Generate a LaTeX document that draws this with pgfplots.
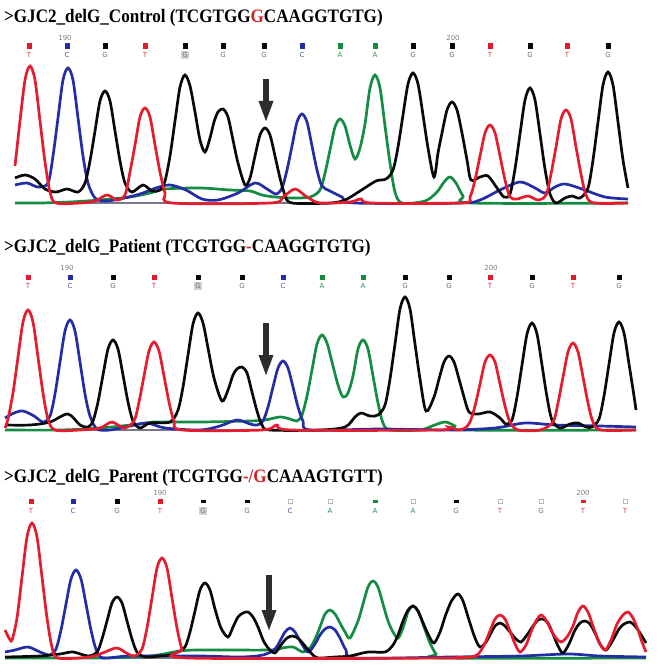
\documentclass[border=0pt]{standalone}
\usepackage{fontspec}
\usepackage{graphicx}
\usepackage{pgfplots}
\pgfplotsset{compat=1.18}
\usetikzlibrary{arrows.meta}
\setmainfont{Liberation Serif}
\newfontfamily\basefont{DejaVu Sans}
\definecolor{tred}{RGB}{228,28,45}
\definecolor{tblue}{RGB}{35,45,165}
\definecolor{tgreen}{RGB}{20,140,65}
\definecolor{tblack}{RGB}{10,10,10}
\definecolor{basegray}{RGB}{120,120,140}
\definecolor{arrowgray}{RGB}{45,45,45}
\definecolor{titlered}{RGB}{215,30,35}
\definecolor{lred}{RGB}{225,60,70}
\definecolor{lblue}{RGB}{70,90,190}
\definecolor{lgray}{RGB}{110,110,110}
\definecolor{lgreen}{RGB}{50,150,80}
\newcommand\ttl[3]{\node[anchor=west,inner sep=0pt] at (axis cs:#1,#2) {\bfseries\fontsize{19bp}{22bp}\selectfont\scalebox{0.9}[1]{#3}};}
\newcommand\bl[4]{\node[text=#3,inner sep=0pt,font=\basefont\fontsize{7bp}{8bp}\selectfont] at (axis cs:#1,#2) {#4};}
\newcommand\bx[3]{\node[text=lgray,fill=gray!35,inner sep=1bp,font=\basefont\fontsize{7bp}{8bp}\selectfont] at (axis cs:#1,#2) {#3};}
\newcommand\num[3]{\node[text=gray,inner sep=0pt,font=\basefont\fontsize{7bp}{8bp}\selectfont] at (axis cs:#1,#2) {#3};}
\pgfplotsset{trace/.style={line width=2.7bp,smooth,tension=0.5}}
\begin{document}
\begin{tikzpicture}
\begin{axis}[width=658bp,height=672bp,scale only axis,xmin=0,xmax=658,ymin=0,ymax=672,
  y dir=reverse,axis lines=none,clip=false]
\addplot[draw=none] coordinates {(0,0) (658,672)};
% ---------- Panel 1: Control ----------
\addplot[basegray,line width=1.2bp] coordinates {(15,203) (628,203)};
\addplot[tgreen,trace] coordinates {(15,203) (40,203) (70,202) (100,200) (130,197) (150,193) (165,189) (200,188) (230,190) (250,191) (262,195) (275,197) (292,198) (310,197) (320,190) (325,173) (330,150) (335,127) (340,119) (345,126) (350,145) (355,159) (360,148) (365,124) (370,88) (375,75) (380,88) (385,126) (390,163) (395,192) (402,203) (425,201) (437,192) (444,182) (450,177) (456,183) (463,196) (472,203) (628,203)};
\addplot[tblue,trace] coordinates {(15,185) (27,183) (38,187) (48,183) (53,156) (58,118) (63,80) (68,68) (73,80) (78,118) (83,156) (88,183) (95,198) (105,201) (120,199) (140,194) (156,188) (170,185) (186,190) (202,199) (218,200) (238,193) (255,183) (267,189) (276,194) (282,188) (287,170) (292,146) (297,122) (302,114) (307,122) (312,146) (317,170) (322,186) (330,191) (342,197) (355,203) (460,203) (480,200) (500,190) (520,182) (535,188) (545,193) (555,187) (565,184) (582,189) (605,197) (628,199)};
\addplot[tblack,trace] coordinates {(15,178) (25,175) (35,179) (45,189) (56,192) (67,189) (78,192) (85,183) (90,161) (95,131) (100,101) (105,91) (110,101) (115,131) (120,161) (125,183) (132,192) (143,185) (152,191) (160,190) (165,181) (170,156) (175,121) (180,87) (185,75) (190,86) (195,112) (200,140) (205,152) (210,138) (214,122) (218,112) (223,109) (228,117) (233,140) (238,163) (245,185) (250,178) (255,156) (260,135) (265,128) (270,135) (275,156) (280,178) (285,195) (292,203) (330,203) (345,200) (360,191) (376,181) (386,179) (393,170) (398,147) (403,115) (408,84) (413,73) (418,84) (423,115) (428,148) (434,177) (438,153) (442,133) (447,110) (452,102) (457,110) (462,133) (467,160) (471,180) (480,177) (488,176) (497,188) (504,197) (510,194) (515,169) (520,134) (525,100) (530,88) (535,100) (540,134) (545,169) (550,194) (556,203) (565,198) (572,196) (580,198) (588,188) (593,160) (598,122) (603,85) (608,72) (613,85) (618,122) (623,160) (628,188)};
\addplot[tred,trace] coordinates {(15,166) (20,121) (25,80) (30,66) (35,80) (40,121) (45,162) (50,192) (56,203) (80,203) (95,201) (107,195) (117,200) (125,195) (130,172) (135,145) (140,117) (145,108) (150,117) (155,145) (160,172) (165,193) (172,203) (270,203) (283,197) (295,189) (307,197) (320,203) (350,202) (361,199) (372,203) (462,203) (470,197) (475,180) (480,156) (485,133) (490,125) (495,133) (500,156) (505,180) (510,197) (517,199) (528,196) (538,200) (546,195) (551,174) (556,147) (561,119) (566,110) (571,119) (576,147) (581,174) (586,195) (594,203) (628,203)};
\addplot[arrowgray,line width=6bp,-{Triangle[width=13bp,length=22bp]}] coordinates {(266,79) (266,123)};
\addplot[only marks,mark=square*,mark size=2.3bp,tred] coordinates {(29,46) (145,46) (490,46) (567,46)};
\addplot[only marks,mark=square*,mark size=2.3bp,tblue] coordinates {(67,46) (302,46)};
\addplot[only marks,mark=square*,mark size=2.3bp,tblack] coordinates {(105,46) (185,46) (223,46) (264,46) (413,46) (452,46) (530,46) (608,46)};
\addplot[only marks,mark=square*,mark size=2.3bp,tgreen] coordinates {(340,46) (375,46)};
\ttl{4}{18}{>GJC2\_delG\_Control (TCGTGG\textcolor{titlered}{G}CAAGGTGTG)}
\num{65}{38}{190}\num{453}{38}{200}
\bl{29}{55}{lred}{T}\bl{67}{55}{lblue}{C}\bl{105}{55}{lgray}{G}\bl{145}{55}{lred}{T}\bx{185}{55}{G}\bl{223}{55}{lgray}{G}\bl{264}{55}{lgray}{G}\bl{302}{55}{lblue}{C}
\bl{340}{55}{lgreen}{A}\bl{375}{55}{lgreen}{A}\bl{413}{55}{lgray}{G}\bl{452}{55}{lgray}{G}\bl{490}{55}{lred}{T}\bl{530}{55}{lgray}{G}\bl{567}{55}{lred}{T}\bl{608}{55}{lgray}{G}
% ---------- Panel 2: Patient ----------
\addplot[basegray,line width=1.2bp] coordinates {(5,430) (636,430)};
\addplot[tgreen,trace] coordinates {(5,430) (60,430) (100,428) (140,424) (155,422) (200,422) (250,421) (265,420) (280,417) (290,419) (297,421) (302,415) (307,396) (312,370) (317,344) (322,335) (327,343) (332,362) (338,385) (343,397) (348,393) (353,376) (358,349) (363,340) (368,349) (373,376) (378,403) (383,423) (390,430) (420,430) (432,426) (445,422) (455,426) (462,430) (636,430)};
\addplot[tblue,trace] coordinates {(5,418) (14,413) (23,411) (34,416) (43,422) (50,416) (55,394) (60,362) (65,331) (70,320) (75,331) (80,362) (85,394) (90,416) (97,429) (110,430) (130,426) (147,423) (165,428) (200,430) (220,426) (237,420) (250,424) (257,425) (263,421) (268,407) (273,387) (278,368) (283,361) (288,368) (293,387) (298,407) (303,421) (310,430) (380,429) (450,430) (495,428) (525,423) (555,425) (600,426) (636,427)};
\addplot[tblack,trace] coordinates {(5,425) (30,425) (50,422) (68,414) (80,425) (88,427) (93,421) (98,402) (103,375) (108,349) (113,340) (118,349) (123,375) (128,402) (133,421) (140,428) (150,423) (170,422) (178,410) (183,387) (188,355) (193,324) (198,313) (203,323) (208,348) (214,378) (222,401) (228,390) (233,375) (237,369) (242,367) (247,373) (252,392) (257,411) (262,425) (270,430) (320,430) (345,427) (355,417) (361,413) (370,416) (378,415) (385,405) (390,379) (395,344) (400,309) (405,297) (410,309) (415,344) (420,379) (426,411) (434,397) (439,379) (444,362) (449,356) (454,362) (459,379) (464,397) (469,412) (478,414) (490,412) (500,418) (506,424) (512,420) (517,397) (522,365) (527,334) (532,323) (537,334) (542,365) (547,397) (552,420) (560,428) (570,424) (578,423) (586,427) (592,427) (599,419) (604,396) (609,364) (614,333) (619,322) (624,333) (629,364) (634,396) (636,410)};
\addplot[tred,trace] coordinates {(5,428) (8,419) (13,393) (18,357) (23,322) (28,310) (33,322) (38,357) (43,393) (48,419) (55,430) (80,430) (100,428) (112,422) (124,428) (134,421) (139,402) (144,376) (149,351) (154,342) (159,351) (164,376) (169,402) (174,421) (182,430) (262,430) (277,425) (292,430) (438,430) (448,427) (458,430) (465,428) (470,422) (475,406) (480,384) (485,362) (490,355) (495,362) (500,384) (505,406) (510,422) (518,430) (540,430) (553,422) (558,403) (563,377) (568,352) (573,343) (578,352) (583,377) (588,403) (593,422) (601,430) (636,430)};
\addplot[arrowgray,line width=6bp,-{Triangle[width=13bp,length=22bp]}] coordinates {(266,323) (266,377)};
\addplot[only marks,mark=square*,mark size=2.3bp,tred] coordinates {(28,277) (154,277) (490,277) (573,277)};
\addplot[only marks,mark=square*,mark size=2.3bp,tblue] coordinates {(70,277) (283,277)};
\addplot[only marks,mark=square*,mark size=2.3bp,tblack] coordinates {(113,277) (198,277) (242,277) (405,277) (449,277) (532,277) (619,277)};
\addplot[only marks,mark=square*,mark size=2.3bp,tgreen] coordinates {(322,277) (363,277)};
\ttl{4}{248}{>GJC2\_delG\_Patient (TCGTGG\textcolor{titlered}{-}CAAGGTGTG)}
\num{67}{268}{190}\num{491}{268}{200}
\bl{28}{286}{lred}{T}\bl{70}{286}{lblue}{C}\bl{113}{286}{lgray}{G}\bl{154}{286}{lred}{T}\bx{198}{286}{G}\bl{242}{286}{lgray}{G}\bl{283}{286}{lblue}{C}\bl{322}{286}{lgreen}{A}
\bl{363}{286}{lgreen}{A}\bl{405}{286}{lgray}{G}\bl{449}{286}{lgray}{G}\bl{490}{286}{lred}{T}\bl{532}{286}{lgray}{G}\bl{573}{286}{lred}{T}\bl{619}{286}{lgray}{G}
% ---------- Panel 3: Parent ----------
\addplot[basegray,line width=1.2bp] coordinates {(5,658) (646,658)};
\addplot[tgreen,trace] coordinates {(5,658) (100,658) (150,656) (180,651) (200,650) (270,650) (282,648) (293,647) (303,652) (310,648) (315,639) (320,627) (325,614) (330,610) (335,614) (340,623) (345,632) (350,638) (358,621) (363,604) (368,587) (373,581) (378,587) (383,604) (388,621) (393,632) (398,638) (403,628) (408,612) (413,606) (418,611) (424,627) (430,643) (436,654) (442,658) (646,658)};
\addplot[tblue,trace] coordinates {(5,652) (15,650) (28,647) (40,652) (50,655) (56,649) (61,630) (66,604) (71,579) (76,570) (81,579) (86,604) (91,630) (96,649) (103,658) (130,656) (200,656) (240,657) (263,655) (275,649) (280,641) (285,632) (290,628) (295,632) (300,641) (308,652) (315,644) (320,635) (325,629) (330,627) (335,630) (340,638) (346,650) (356,658) (450,657) (520,656) (568,654) (600,656) (646,657)};
\addplot[tblack,trace] coordinates {(5,657) (40,656) (60,654) (73,652) (88,656) (97,652) (102,639) (107,621) (112,603) (117,597) (122,603) (127,621) (132,639) (137,652) (145,657) (160,656) (170,655) (178,652) (185,647) (190,632) (195,611) (200,590) (205,583) (210,590) (215,609) (221,628) (228,637) (233,627) (238,617) (243,613) (248,612) (253,617) (258,627) (264,642) (270,650) (275,653) (281,645) (287,638) (293,636) (299,639) (305,646) (312,654) (318,658) (335,657) (350,656) (368,652) (385,652) (393,645) (398,635) (403,621) (408,610) (413,606) (418,611) (424,625) (429,636) (434,643) (440,632) (446,614) (452,600) (458,594) (463,601) (469,620) (475,638) (480,647) (486,642) (491,633) (495,626) (500,623) (505,626) (510,632) (516,639) (521,642) (527,635) (533,626) (538,620) (543,619) (548,623) (553,634) (558,646) (563,653) (569,644) (575,630) (580,623) (585,621) (590,624) (595,633) (600,644) (606,650) (613,640) (619,629) (624,624) (630,622) (635,626) (640,633) (646,643)};
\addplot[tred,trace] coordinates {(5,630) (9,638) (12,640) (17,618) (22,577) (27,537) (32,523) (37,537) (42,577) (47,618) (52,647) (58,658) (90,657) (105,652) (117,648) (128,654) (135,656) (142,649) (147,628) (152,598) (157,568) (162,558) (167,568) (172,598) (177,628) (182,649) (189,658) (450,658) (455,657) (462,658) (475,656) (480,652) (485,643) (490,631) (495,619) (500,615) (505,619) (510,631) (515,644) (520,652) (526,645) (531,632) (536,621) (541,615) (546,620) (551,630) (556,638) (561,642) (567,637) (573,626) (578,612) (583,606) (588,612) (593,626) (599,642) (605,650) (611,640) (617,624) (623,615) (628,612) (633,618) (638,630) (642,642) (646,652)};
\addplot[arrowgray,line width=6bp,-{Triangle[width=13bp,length=22bp]}] coordinates {(269,575) (269,632)};
\addplot[only marks,mark=square*,mark size=2.3bp,tred] coordinates {(31,501) (160,501)};
\addplot[only marks,mark=square*,mark size=2.3bp,tblue] coordinates {(73,501)};
\addplot[only marks,mark=square*,mark size=2.3bp,tblack] coordinates {(117,501)};
\addplot[only marks,mark=square*,mark size=2.3bp,mark options={yscale=0.45},tblack] coordinates {(203,501) (247,501) (456,501)};
\addplot[only marks,mark=square*,mark size=2.3bp,mark options={yscale=0.45},tgreen] coordinates {(375,501)};
\addplot[only marks,mark=square*,mark size=2.3bp,mark options={yscale=0.45},tred] coordinates {(583,501)};
\addplot[only marks,mark=square,mark size=2.2bp,mark options={line width=0.6bp},gray!55] coordinates {(290,501) (330,501) (413,501) (500,501) (541,501) (625,501)};
\ttl{4}{478}{>GJC2\_delG\_Parent (TCGTGG\textcolor{titlered}{-/G}CAAAGTGTT)}
\num{160}{493}{190}\num{583}{493}{200}
\bl{31}{511}{lred}{T}\bl{73}{511}{lblue}{C}\bl{117}{511}{lgray}{G}\bl{160}{511}{lred}{T}\bx{203}{511}{G}\bl{247}{511}{lgray}{G}\bl{290}{511}{lblue}{C}\bl{330}{511}{lgreen}{A}
\bl{375}{511}{lgreen}{A}\bl{413}{511}{lgreen}{A}\bl{456}{511}{lgray}{G}\bl{500}{511}{lred}{T}\bl{541}{511}{lgray}{G}\bl{583}{511}{lred}{T}\bl{625}{511}{lred}{T}
\end{axis}
\end{tikzpicture}
\end{document}
